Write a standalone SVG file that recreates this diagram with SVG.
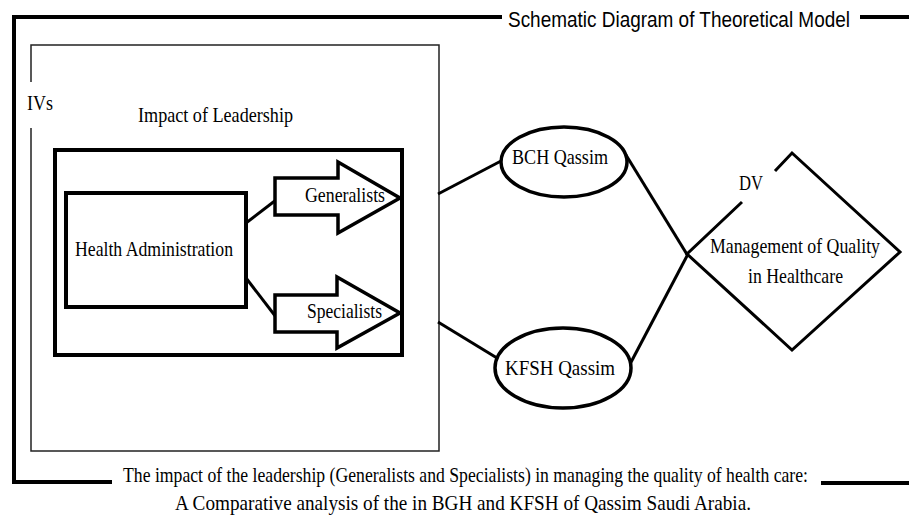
<svg xmlns="http://www.w3.org/2000/svg" width="909" height="517" viewBox="0 0 909 517">
<style>
.frame{fill:none;stroke:#000;stroke-width:4}
.thin{fill:none;stroke:#222;stroke-width:1.5}
.box{fill:#fff;stroke:#000;stroke-width:4}
.shape{fill:#fff;stroke:#000;stroke-width:3.5}
.conn{fill:none;stroke:#000;stroke-width:3}
.serif{font-family:"Liberation Serif","Times New Roman",serif;font-size:22px;fill:#000}
.sans{font-family:"Liberation Sans",Arial,sans-serif;font-size:22px;fill:#000}
</style>
<rect width="909" height="517" fill="#fff"/>
<g id="frame">
<polyline class="frame" points="502,17 14,17 14,482 112,482"/>
<line class="frame" x1="860" y1="17" x2="909" y2="17"/>
<line class="frame" x1="821" y1="483" x2="909" y2="483"/>
<text class="sans" x="508" y="27" textLength="342" lengthAdjust="spacingAndGlyphs">Schematic Diagram of Theoretical Model</text>
<text class="serif" x="123" y="482" textLength="685" lengthAdjust="spacingAndGlyphs">The impact of the leadership (Generalists and Specialists) in managing the quality of health care:</text>
<text class="serif" x="175" y="510" textLength="576" lengthAdjust="spacingAndGlyphs">A Comparative analysis of the in BGH and KFSH of Qassim Saudi Arabia.</text>
</g>
<g id="ivs">
<polyline class="thin" points="31,82 31,45 439,45 439,451 31,451 31,128"/>
<text class="serif" x="27" y="110" textLength="26" lengthAdjust="spacingAndGlyphs">IVs</text>
<text class="serif" x="138" y="122" textLength="155" lengthAdjust="spacingAndGlyphs">Impact of Leadership</text>
</g>
<g id="leadership">
<rect class="box" x="55" y="150" width="347" height="205"/>
</g>
<g id="connectors">
<line class="conn" x1="246" y1="223" x2="276" y2="200"/>
<line class="conn" x1="246" y1="278" x2="276" y2="317"/>
<line class="conn" x1="438" y1="194" x2="501" y2="161"/>
<line class="conn" x1="438" y1="322" x2="497" y2="358"/>
<line class="conn" x1="626" y1="155" x2="688" y2="256"/>
<line class="conn" x1="629" y1="366" x2="688" y2="254"/>
</g>
<g id="health-administration">
<rect class="box" x="66" y="193" width="180" height="114"/>
<text class="serif" x="75" y="256" textLength="158" lengthAdjust="spacingAndGlyphs">Health Administration</text>
</g>
<g id="generalists">
<polygon class="shape" points="275,178 338,178 338,162 400,198 338,233 338,215 275,215"/>
<text class="serif" x="305" y="202" textLength="80" lengthAdjust="spacingAndGlyphs">Generalists</text>
</g>
<g id="specialists">
<polygon class="shape" points="275,295 337,295 337,277 400,313 337,348 337,332 275,332"/>
<text class="serif" x="307" y="318" textLength="75" lengthAdjust="spacingAndGlyphs">Specialists</text>
</g>
<g id="bch">
<ellipse class="shape" cx="564" cy="162" rx="63" ry="35"/>
<text class="serif" x="512" y="164" textLength="96" lengthAdjust="spacingAndGlyphs">BCH Qassim</text>
</g>
<g id="kfsh">
<ellipse class="shape" cx="563" cy="368" rx="68" ry="40"/>
<text class="serif" x="505" y="375" textLength="110" lengthAdjust="spacingAndGlyphs">KFSH Qassim</text>
</g>
<g id="dv">
<polyline class="conn" points="742,202 687,254 792,350 900,252 792,153 775,171"/>
<text class="serif" x="739" y="190" textLength="24" lengthAdjust="spacingAndGlyphs">DV</text>
<text class="serif" x="710" y="253" textLength="170" lengthAdjust="spacingAndGlyphs">Management of Quality</text>
<text class="serif" x="748" y="283" textLength="95" lengthAdjust="spacingAndGlyphs">in Healthcare</text>
</g>
</svg>
